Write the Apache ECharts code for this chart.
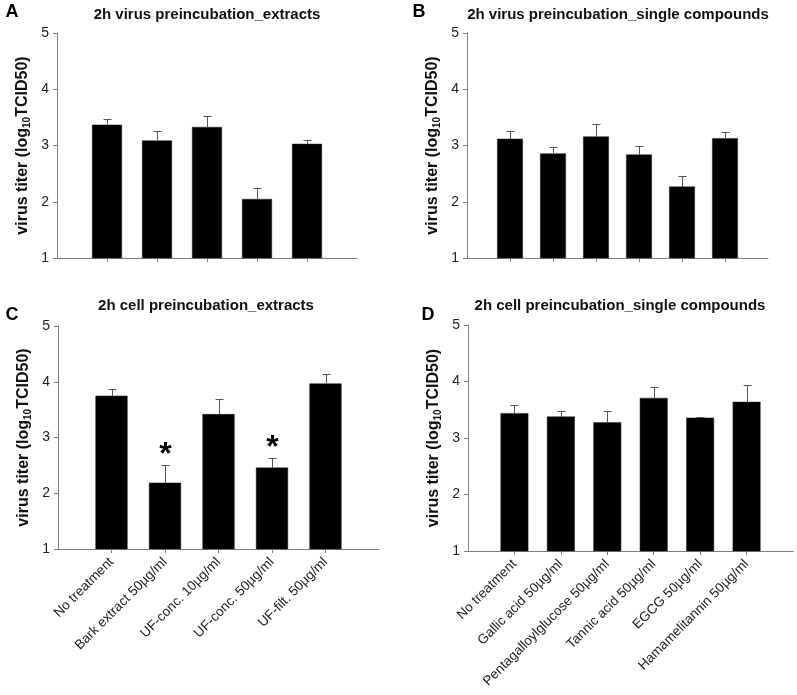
<!DOCTYPE html>
<html>
<head>
<meta charset="utf-8">
<script src="https://cdn.jsdelivr.net/npm/echarts@6/dist/echarts.min.js"></script>
<style>
html,body{margin:0;padding:0;background:#fff;}
#chart{width:797px;height:695px;}
</style>
</head>
<body>
<div id="chart"></div>
<script>
// ---- data ----
var catsExtracts = ['No treatment', 'Bark extract 50\u00b5g/ml', 'UF-conc. 10\u00b5g/ml', 'UF-conc. 50\u00b5g/ml', 'UF-filt. 50\u00b5g/ml'];
var catsCompounds = ['No treatment', 'Gallic acid 50\u00b5g/ml', 'Pentagalloylglucose 50\u00b5g/ml', 'Tannic acid 50\u00b5g/ml', 'EGCG 50\u00b5g/ml', 'Hamamelitannin 50\u00b5g/ml'];

var valA = [3.37, 3.09, 3.33, 2.05, 3.03];
var errA = [0.11, 0.16, 0.19, 0.19, 0.06];
var valB = [3.12, 2.86, 3.16, 2.84, 2.27, 3.13];
var errB = [0.14, 0.12, 0.23, 0.16, 0.18, 0.11];
var valC = [3.75, 2.19, 3.42, 2.46, 3.97];
var errC = [0.12, 0.31, 0.27, 0.17, 0.17];
var sigC = [false, true, false, true, false];
var valD = [3.44, 3.38, 3.28, 3.71, 3.36, 3.64];
var errD = [0.15, 0.10, 0.19, 0.20, 0.02, 0.30];
var sigD = [false, false, false, false, false, false];
var sigA = [false, false, false, false, false];
var sigB = [false, false, false, false, false, false];

var yTicks = [1, 2, 3, 4, 5];
var panelTitles = ['2h virus preincubation_extracts', '2h virus preincubation_single compounds', '2h cell preincubation_extracts', '2h cell preincubation_single compounds'];
var panelLetters = ['A', 'B', 'C', 'D'];
var yName = 'virus titer (log{sub|10}TCID50)';

// ---- layout ----
var panels = [
  {grid: {left: 57, top: 33, width: 300, height: 225}, cats: catsExtracts, vals: valA, errs: errA, sig: sigA, labels: false, title: [207, 15], letter: [12, 12]},
  {grid: {left: 467, top: 33, width: 301, height: 225}, cats: catsCompounds, vals: valB, errs: errB, sig: sigB, labels: false, title: [618, 15], letter: [419, 12]},
  {grid: {left: 58, top: 326, width: 321, height: 223}, cats: catsExtracts, vals: valC, errs: errC, sig: sigC, labels: true, title: [206, 306], letter: [12, 315]},
  {grid: {left: 468, top: 325, width: 325, height: 226}, cats: catsCompounds, vals: valD, errs: errD, sig: sigD, labels: true, title: [620, 306], letter: [428, 315]}
];

var AXIS = '#7f7f7f';
var FONT = 'Liberation Sans, Arial, sans-serif';
var grids = [], xAxes = [], yAxes = [], series = [], graphics = [];

panels.forEach(function (p, i) {
  grids.push(Object.assign({containLabel: false}, p.grid));
  var n = p.cats.length;
  var catData = [''].concat(p.cats).concat(['']);
  xAxes.push({
    type: 'category', gridIndex: i, data: catData, boundaryGap: false,
    axisLine: {lineStyle: {color: AXIS, width: 1}},
    axisTick: {show: true, length: 4, lineStyle: {color: AXIS}, interval: function (idx) { return idx > 0 && idx <= n; }},
    axisLabel: {show: p.labels, interval: 0, rotate: 45, fontSize: 13.5, color: '#222', fontFamily: FONT, margin: 11},
    splitLine: {show: false}
  });
  yAxes.push({
    type: 'value', gridIndex: i, min: yTicks[0], max: yTicks[yTicks.length - 1], interval: 1,
    name: yName, nameLocation: 'middle', nameRotate: 90, nameGap: 25,
    nameTextStyle: {fontSize: 16, fontWeight: 'bold', color: '#111', fontFamily: FONT,
      rich: {sub: {fontSize: 10, fontWeight: 'bold', color: '#111', fontFamily: FONT, padding: [8, 0, 0, 0]}}},
    axisLine: {show: true, lineStyle: {color: AXIS, width: 1}},
    axisTick: {show: true, length: 4, lineStyle: {color: AXIS}},
    axisLabel: {fontSize: 14, color: '#222', fontFamily: FONT, margin: 8},
    splitLine: {show: false}
  });
  var barData = [null].concat(p.vals).concat([null]);
  series.push({
    type: 'bar', xAxisIndex: i, yAxisIndex: i, data: barData, barWidth: '60%',
    itemStyle: {color: '#000', borderColor: '#222', borderWidth: 0.5}, silent: true, z: 2
  });
  var errData = p.vals.map(function (v, k) { return [k + 1, v, v + p.errs[k], p.sig[k] ? 1 : 0]; });
  series.push({
    type: 'custom', xAxisIndex: i, yAxisIndex: i, data: errData, silent: true, z: 3,
    renderItem: function (params, api) {
      var x = api.value(0), v = api.value(1), t = api.value(2), s = api.value(3);
      var p0 = api.coord([x, v]), p1 = api.coord([x, t]);
      var cx = Math.round(p0[0]) + 0.5;
      var y0 = Math.round(p0[1]), y1 = Math.round(p1[1]) + 0.5;
      var children = [
        {type: 'line', shape: {x1: cx, y1: y0, x2: cx, y2: y1}, style: {stroke: '#555', lineWidth: 1}},
        {type: 'line', shape: {x1: cx - 4, y1: y1, x2: cx + 4, y2: y1}, style: {stroke: '#555', lineWidth: 1}}
      ];
      if (s) {
        children.push({type: 'text', x: cx, y: p1[1] + 6, style: {text: '*', font: 'bold 32px ' + FONT, fill: '#000', align: 'center', verticalAlign: 'bottom'}});
      }
      return {type: 'group', children: children};
    }
  });
  graphics.push({type: 'text', x: p.title[0], y: p.title[1], style: {text: panelTitles[i], font: 'bold 15px ' + FONT, fill: '#111', align: 'center', verticalAlign: 'middle'}});
  graphics.push({type: 'text', x: p.letter[0], y: p.letter[1], style: {text: panelLetters[i], font: 'bold 18px ' + FONT, fill: '#000', align: 'center', verticalAlign: 'middle'}});
});

var chart = echarts.init(document.getElementById('chart'), null, {renderer: 'canvas'});
chart.setOption({
  animation: false,
  backgroundColor: '#fff',
  grid: grids, xAxis: xAxes, yAxis: yAxes, series: series, graphic: graphics
});
</script>
</body>
</html>
